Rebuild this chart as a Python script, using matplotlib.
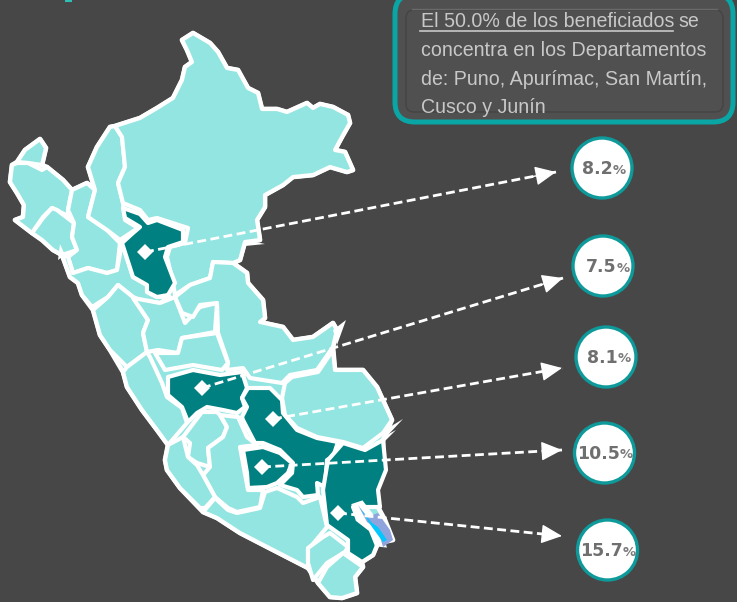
import matplotlib
matplotlib.use("Agg")
import matplotlib.pyplot as plt
from matplotlib.patches import Polygon, Circle, FancyBboxPatch

# outlines, in pixels of the 737x602 image
peru = [(115,126),(140,118),(157,108),(173,98),(182,80),(185,67),(192,62),(187,50),(182,40),(193,33),(210,43),(218,52),(227,68),(238,70),(248,88),(258,93),(262,109),(277,109),(287,112),(307,103),(313,108),(320,104),(333,107),(348,115),(350,123),(342,137),(335,150),(345,152),(353,170),(347,172),(330,167),(313,175),(293,177),(283,185),(265,195),(265,207),(257,220),(260,240),(245,242),(240,260),(233,263),(247,273),(248,283),(263,300),(265,318),(260,322),(283,327),(293,340),(313,337),(333,323),(337,330),(333,347),(335,370),(363,370),(377,387),(392,420),(383,440),(383,470),(375,490),(378,507),(385,520),(393,540),(378,543),(373,555),(362,562),(363,567),(355,577),(357,593),(342,598),(330,597),(318,583),(308,568),(273,550),(240,533),(217,518),(203,512),(180,488),(167,470),(165,460),(168,445),(157,430),(142,410),(127,387),(123,372),(110,350),(100,335),(93,310),(82,295),(78,283),(70,277),(62,255),(53,250),(42,240),(32,233),(15,220),(23,217),(24,205),(17,193),(10,182),(12,165),(17,162),(25,150),(40,139),(46,148),(42,165),(47,167),(63,180),(72,190),(87,183),(95,190),(88,167),(97,147),(110,127)]
tumbes = [(17,162),(25,150),(40,139),(46,148),(42,165),(28,163)]
piura = [(12,165),(10,182),(17,193),(24,205),(23,217),(15,220),(32,233),(43,217),(52,208),(68,216),(68,210),(72,190),(63,180),(47,167),(42,170),(28,163),(17,163)]
lambayeque = [(32,233),(42,240),(53,250),(62,255),(77,250),(72,237),(74,223),(57,210),(52,208),(43,218)]
cajamarca = [(72,190),(87,183),(95,190),(88,217),(107,230),(120,243),(117,270),(107,273),(88,268),(73,273),(68,257),(77,250),(72,237),(74,223),(68,210)]
amazonas = [(115,126),(110,127),(97,147),(88,167),(95,190),(88,217),(107,230),(120,240),(138,228),(125,220),(123,203),(118,183),(125,167),(122,137)]
loreto = [(115,126),(140,118),(157,108),(173,98),(182,80),(185,67),(192,62),(187,50),(182,40),(193,33),(210,43),(218,52),(227,68),(238,70),(248,88),(258,93),(262,109),(277,109),(287,112),(307,103),(313,108),(320,104),(333,107),(348,115),(350,123),(342,137),(335,150),(345,152),(353,170),(347,172),(330,167),(313,175),(293,177),(283,185),(265,195),(265,207),(257,220),(260,240),(245,242),(240,260),(233,263),(213,262),(210,278),(190,285),(175,295),(173,283),(167,257),(170,247),(185,243),(188,228),(157,218),(148,220),(140,210),(123,203),(118,183),(125,167),(122,137)]
san_martin = [(123,208),(140,214),(148,223),(157,220),(183,230),(183,242),(168,247),(165,257),(175,283),(168,295),(157,297),(147,292),(147,285),(133,277),(122,243),(133,233),(140,227),(125,218)]
la_libertad = [(62,255),(70,277),(78,283),(82,295),(92,307),(108,297),(118,285),(133,297),(140,300),(160,303),(170,297),(157,297),(147,292),(147,285),(133,277),(122,243),(117,270),(107,273),(88,268),(73,273),(68,257)]
ancash = [(93,310),(108,297),(118,285),(133,297),(148,320),(143,333),(147,352),(127,367),(110,350),(100,335)]
huanuco = [(133,298),(160,303),(175,297),(185,323),(200,307),(217,303),(215,332),(182,338),(178,353),(158,350),(147,352),(143,333),(148,320)]
ucayali = [(213,262),(233,263),(247,273),(248,283),(263,300),(265,318),(260,322),(283,327),(293,340),(313,337),(333,323),(337,330),(333,347),(317,370),(290,375),(282,383),(250,378),(243,368),(227,370),(228,362),(218,333),(217,303),(200,305),(193,317),(182,313),(175,297),(190,285),(210,278)]
pasco = [(182,338),(217,333),(228,363),(222,370),(193,365),(165,370),(155,353),(178,353)]
junin = [(168,377),(193,370),(220,375),(242,372),(247,388),(242,398),(245,407),(237,413),(223,410),(207,407),(197,413),(188,422),(182,407),(168,395)]
lima = [(127,367),(147,352),(150,357),(162,383),(167,397),(182,408),(187,423),(168,445),(157,430),(142,410),(127,387),(123,372)]
huancavelica = [(183,437),(202,412),(217,412),(220,415),(227,427),(223,437),(208,448),(210,467),(197,463),(188,457),(190,443)]
ayacucho = [(220,415),(238,417),(247,437),(257,445),(240,447),(248,490),(263,490),(260,507),(237,512),(228,508),(215,497),(203,475),(210,467),(208,448),(223,437),(227,427)]
ica = [(168,445),(183,437),(188,457),(197,465),(203,475),(215,497),(205,508),(200,508),(180,488),(167,470),(165,460)]
arequipa = [(203,512),(215,498),(228,510),(237,513),(260,508),(265,492),(277,488),(297,497),(303,503),(320,497),(327,527),(308,550),(308,568),(273,550),(240,533),(217,518)]
apurimac = [(243,450),(263,447),(280,453),(292,463),(288,473),(277,483),(267,487),(248,488),(247,473)]
cusco = [(248,388),(270,388),(282,400),(283,413),(297,430),(317,438),(338,442),(333,457),(327,460),(325,487),(317,483),(318,495),(303,497),(297,490),(280,485),(292,473),(293,463),(280,450),(263,443),(255,443),(243,420),(242,417),(247,407),(242,398)]
madre_de_dios = [(285,383),(292,377),(318,372),(333,350),(335,370),(363,370),(377,387),(392,420),(383,433),(363,448),(343,442),(317,437),(297,428),(285,415),(282,398)]
puno = [(343,443),(365,450),(383,440),(386,470),(378,490),(380,507),(353,507),(357,517),(372,530),(378,543),(373,555),(362,562),(348,553),(348,540),(327,525),(323,490),(328,460)]
moquegua = [(330,533),(348,547),(345,552),(327,563),(313,580),(308,563),(308,548),(323,537)]
tacna = [(343,553),(363,567),(355,577),(357,593),(342,598),(330,597),(318,583),(327,567)]
lake_shore = [(353,505),(362,502),(372,515),(380,530),(385,546),(376,545),(370,530),(357,520)]
lake_outer = [(358,505),(367,517),(378,513),(390,530),(393,540),(383,547),(378,530),(367,522)]
lake_inner = [(360,508),(372,523),(378,527),(387,540),(383,542),(372,527)]
spikes = [[(333,330),(346,320),(337,345)],[(245,240),(265,244),(245,246)],[(385,430),(403,419),(387,436)],[(385,436),(396,430),(384,442)],[(58,260),(60,244),(65,255)]]

light_regions = [tumbes, piura, lambayeque, cajamarca, amazonas, loreto, la_libertad, ancash, huanuco, ucayali, pasco, lima, huancavelica, ayacucho, ica, arequipa, madre_de_dios, moquegua, tacna]
dark_regions = [san_martin, junin, apurimac, cusco, puno]

diamonds = [(145,252),(202,388),(273,419),(262,467),(338,513)]
arrow_ends = [(556,172),(563,278),(562,368),(562,450),(562,536)]
circle_x = [602,603,606,604.5,607.5]
circle_y = [168,266,357,453,550]
percents = ["8.2","7.5","8.1","10.5","15.7"]
text_dx = [11,14,12,15.5,15.5]

box_lines = ["concentra en los Departamentos", "de: Puno, Apurímac, San Martín,", "Cusco y Junín"]

fig = plt.figure(figsize=(7.37, 6.02), dpi=100, facecolor="#474747")
ax = fig.add_axes([0, 0, 1, 1])
ax.set_xlim(0, 737)
ax.set_ylim(602, 0)
ax.axis("off")

ax.add_patch(Polygon(peru, closed=True, fc="#93E5E1", ec="white", lw=3.4, joinstyle="round"))
for r in light_regions:
    ax.add_patch(Polygon(r, closed=True, fc="#93E5E1", ec="white", lw=3, joinstyle="round"))
for r in dark_regions:
    ax.add_patch(Polygon(r, closed=True, fc="#008080", ec="white", lw=3, joinstyle="round"))
for s in spikes:
    ax.add_patch(Polygon(s, closed=True, fc="white", ec="none"))
ax.add_patch(Polygon(lake_shore, closed=True, fc="white", ec="white", lw=2, zorder=3))
ax.add_patch(Polygon(lake_outer, closed=True, fc="#8FA4DC", ec="none", zorder=3))
ax.add_patch(Polygon(lake_inner, closed=True, fc="#00C8FF", ec="none", zorder=3))

# dashed arrows, line and head separately so the head stays solid
for d, e in zip(diamonds, arrow_ends):
    ax.plot([d[0], e[0]], [d[1], e[1]], color="white", lw=2, ls=(0, (3.2, 1.6)), zorder=4)
    t = 0.94
    start = (d[0] + (e[0] - d[0]) * t, d[1] + (e[1] - d[1]) * t)
    ax.annotate("", xy=e, xytext=start, zorder=5,
                arrowprops=dict(arrowstyle="-|>,head_length=0.65,head_width=0.3", color="white", mutation_scale=20, lw=1, shrinkA=0, shrinkB=0))
ax.plot([d[0] for d in diamonds], [d[1] for d in diamonds], "D", color="white", ms=8.5, mew=0, zorder=5)

for x, y, p, dx in zip(circle_x, circle_y, percents, text_dx):
    ax.add_patch(Circle((x, y), 30, fc="white", ec="#0E9A9A", lw=2.4, zorder=6))
    ax.text(x + dx, y + 1, p, ha="right", va="center", fontsize=12.5, fontweight="bold", color="#6F6F6F", zorder=7)
    ax.text(x + dx, y + 2, "%", ha="left", va="center", fontsize=9.5, fontweight="bold", color="#7A7A7A", zorder=7)

# text box
ax.add_patch(FancyBboxPatch((395, -6), 338, 128, boxstyle="round,pad=0,rounding_size=20", fc="#505050", ec="#0AA5A5", lw=3.6, zorder=2))
ax.add_patch(FancyBboxPatch((406, 10), 317, 102, boxstyle="round,pad=0,rounding_size=8", fc="none", ec="#444444", lw=1, zorder=3))
ax.plot([412, 717], [9, 9], color="#6A6A6A", lw=1, zorder=3)

fp = dict(family="Liberation Sans", fontsize=14.15, color="#C8C8C8", zorder=4, va="baseline")
ax.text(421, 27, "El 50.0% de los beneficiados", **fp)
ax.text(678, 27, "se", ha="left", **fp)
ax.plot([420, 673], [30.5, 30.5], color="#C8C8C8", lw=1.2, zorder=4)
line_y = [55.5, 85, 113]
for y, line in zip(line_y, box_lines):
    ax.text(421, y, line, **fp)

# bit of a cut off title at the top
ax.plot([65, 72], [1, 1], color="#2FBFB5", lw=1.5, solid_capstyle="butt")

fig.savefig("out.png", dpi=100, facecolor=fig.get_facecolor())
plt.close()
